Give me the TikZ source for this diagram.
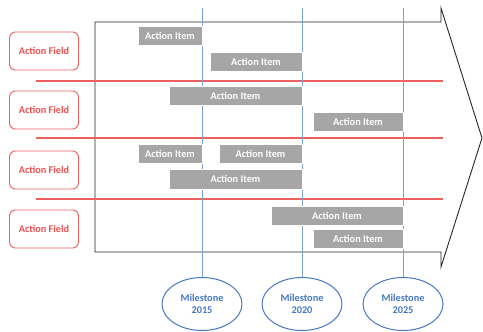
\documentclass[tikz,border=0pt]{standalone}
\usepackage{fontspec}
\setmainfont{Carlito}
\usetikzlibrary{shapes.geometric}
\definecolor{fieldred}{RGB}{240,80,80}
\definecolor{linered}{RGB}{238,95,95}
\definecolor{msblue}{RGB}{70,120,195}
\definecolor{vblue}{RGB}{125,160,210}
\definecolor{itemgray}{RGB}{166,166,166}
\begin{document}
\begin{tikzpicture}[x=1pt,y=-1pt,
  field/.style={draw=linered,line width=0.9pt,rounded corners=6pt,minimum width=69pt,minimum height=38pt,inner sep=0pt,text=fieldred,font=\fontsize{10.3}{12}\selectfont\bfseries},
  item/.style={fill=itemgray,draw=white,line width=0.4pt,inner sep=0pt,text=white,font=\fontsize{10.3}{12}\selectfont\bfseries},
  mile/.style={ellipse,draw=msblue,line width=1pt,minimum width=80pt,minimum height=53pt,inner sep=0pt,text=msblue,align=center,font=\fontsize{10.3}{12.5}\selectfont\bfseries},
  sep/.style={draw=linered,line width=1.4pt},
  vline/.style={draw=vblue,line width=1pt},
  arrowshape/.style={draw=black!85,line width=0.9pt}]
\useasboundingbox (0,0) rectangle (483,332);
% big arrow
\draw[arrowshape] (95,22) -- (441,22) -- (441,8) -- (482,138) -- (441,267) -- (441,252) -- (95,252) -- cycle;
% separators
\coordinate (s1a) at (36,81); \coordinate (s1b) at (443,81);
\coordinate (s2a) at (36,138); \coordinate (s2b) at (443,138);
\coordinate (s3a) at (36,199); \coordinate (s3b) at (443,199);
\draw[sep] (s1a) -- (s1b);
\draw[sep] (s2a) -- (s2b);
\draw[sep] (s3a) -- (s3b);
% milestones
\node[mile] (m1) at (202,304) {Milestone\\2015};
\node[mile] (m2) at (302,304) {Milestone\\2020};
\node[mile] (m3) at (403,304) {Milestone\\2025};
\coordinate (t1) at (202,8); \coordinate (t2) at (302,8); \coordinate (t3) at (403,8);
\draw[vline] (t1) -- (m1.north);
\draw[vline] (t2) -- (m2.north);
\draw[vline] (t3) -- (m3.north);
% action fields
\node[field] (f1) at (44,51) {Action Field};
\node[field] (f2) at (44,110) {Action Field};
\node[field] (f3) at (44,170) {Action Field};
\node[field] (f4) at (44,229) {Action Field};
% action items
\node[item,minimum width=64pt,minimum height=19pt] (a1) at (170,36) {Action Item};
\node[item,minimum width=92pt,minimum height=19pt] (a2) at (256,61.5) {Action Item};
\node[item,minimum width=133pt,minimum height=19pt] (a3) at (235.5,95.5) {Action Item};
\node[item,minimum width=90pt,minimum height=19pt] (a4) at (358,121.5) {Action Item};
\node[item,minimum width=64pt,minimum height=19pt] (a5) at (170,153.5) {Action Item};
\node[item,minimum width=83pt,minimum height=19pt] (a6) at (260.5,153.5) {Action Item};
\node[item,minimum width=133pt,minimum height=20pt] (a7) at (235.5,179) {Action Item};
\node[item,minimum width=132pt,minimum height=19pt] (a8) at (337,215.5) {Action Item};
\node[item,minimum width=90pt,minimum height=19pt] (a9) at (358,238.5) {Action Item};
\end{tikzpicture}
\end{document}
